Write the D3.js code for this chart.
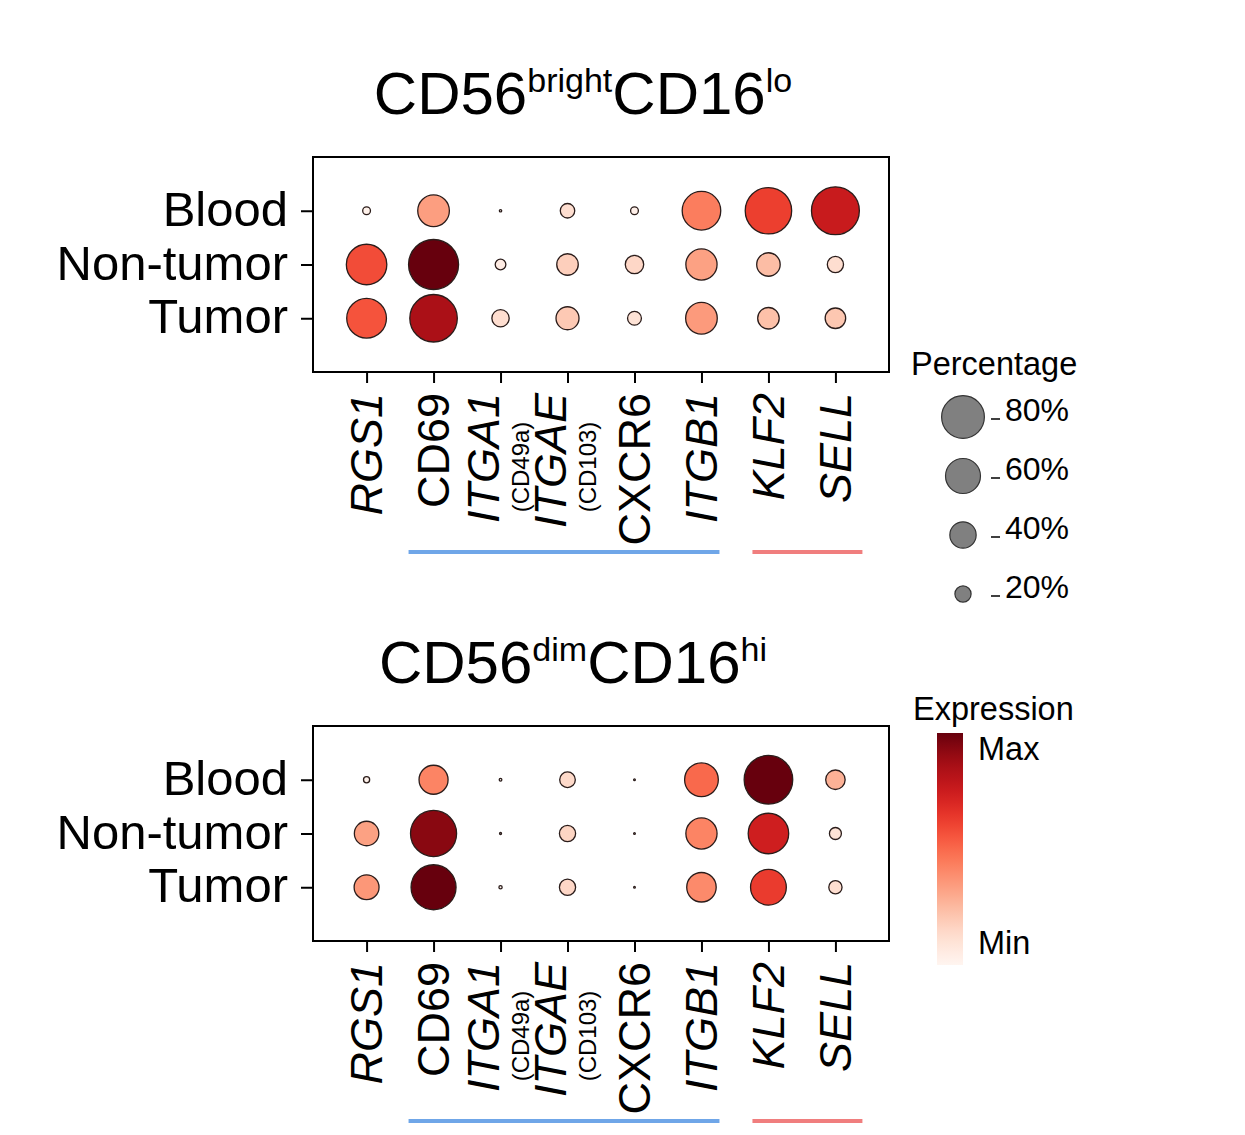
<!DOCTYPE html>
<html><head><meta charset="utf-8">
<script src="https://cdn.jsdelivr.net/npm/d3@7"></script>
<style>
body{margin:0;background:#fff}
svg{display:block}
text{font-family:"Liberation Sans",Arial,Helvetica,sans-serif;fill:#000}
</style>
</head><body>
<svg id="chart" width="1245" height="1135"></svg>
<script>
// ---------------- data ----------------
const genes = ["RGS1","CD69","ITGA1","ITGAE","CXCR6","ITGB1","KLF2","SELL"];
const uprightGenes = ["CD69","CXCR6"];
const notedGenes = ["ITGA1","ITGAE"];
const geneNotes = ["(CD49a)","(CD103)"];
const tissues = ["Blood","Non-tumor","Tumor"];

// percentage of cells expressing (rows = tissues)
const brightPct = [
  [7, 52, 1.3, 17, 7, 69, 90, 94],
  [74, 100, 11, 30, 24, 51, 34, 20],
  [72, 93, 22, 33, 16, 52, 30, 28]
];
// scaled mean expression 0 (min) .. 1 (max)
const brightExpr = [
  [0.02, 0.34, 0.0, 0.12, 0.03, 0.44, 0.62, 0.76],
  [0.58, 1.0, 0.05, 0.18, 0.15, 0.33, 0.24, 0.12],
  [0.56, 0.85, 0.12, 0.20, 0.10, 0.35, 0.23, 0.21]
];
const dimPct = [
  [5, 46, 1.5, 19, 0.8, 57, 96, 26],
  [36, 89, 1, 20, 0.8, 51, 74, 13],
  [37, 86, 2, 20, 0.8, 47, 62, 15]
];
const dimExpr = [
  [0.02, 0.42, 0.0, 0.14, 0.0, 0.50, 1.0, 0.28],
  [0.33, 0.93, 0.0, 0.16, 0.0, 0.42, 0.74, 0.10],
  [0.36, 1.0, 0.0, 0.15, 0.0, 0.40, 0.63, 0.12]
];
const legendPcts = [80, 60, 40, 20];
const blueGroup = ["CD69","ITGB1"];
const redGroup = ["KLF2","SELL"];
const titleParts = [["CD56","bright","CD16","lo"],["CD56","dim","CD16","hi"]];
const sizeTitle = "Percentage";
const colorTitle = "Expression";
const colorLabels = ["Max","Min"];

// ---------------- drawing ----------------
const svg = d3.select("#chart");
svg.append("rect").attr("width",1245).attr("height",1135).attr("fill","#fff");

const boxLeft = 313, boxRight = 889, boxH = 215;
const x = d3.scalePoint().domain(genes).range([boxLeft, boxRight]).padding(0.8);
const rScale = d3.scalePow().exponent(0.7).domain([0,100]).range([0,25]);
const color = d3.scaleSequential(d3.interpolateReds).domain([0,1]);

function panel(top, pct, expr, title, titleX) {
  const bottom = top + boxH;
  const y = d3.scalePoint().domain(tissues).range([top, bottom]).padding(1);
  const g = svg.append("g");

  // title
  const t = g.append("text").attr("x", titleX).attr("y", top - 43)
    .attr("text-anchor","middle").attr("font-size",60);
  t.append("tspan").text(title[0]);
  t.append("tspan").attr("font-size",34).attr("dy",-22).text(title[1]);
  t.append("tspan").attr("dy",22).text(title[2]);
  t.append("tspan").attr("font-size",34).attr("dy",-22).text(title[3]);

  // y axis
  const ya = g.append("g").attr("transform",`translate(${boxLeft},0)`)
    .call(d3.axisLeft(y).tickSize(12).tickPadding(13));
  ya.select(".domain").remove();
  ya.selectAll("line").attr("stroke","#000").attr("stroke-width",2);
  ya.selectAll("text").attr("font-size",49).attr("font-family",null).attr("dy","0.3em");

  // x axis ticks
  const xa = g.append("g").attr("transform",`translate(0,${bottom})`)
    .call(d3.axisBottom(x).tickSize(11).tickFormat(""));
  xa.select(".domain").remove();
  xa.selectAll("line").attr("stroke","#000").attr("stroke-width",2);

  // frame
  g.append("rect").attr("x",boxLeft).attr("y",top).attr("width",boxRight-boxLeft).attr("height",boxH)
    .attr("fill","none").attr("stroke","#000").attr("stroke-width",2);

  // x labels
  genes.forEach(gene => {
    const lg = g.append("g").attr("transform",`translate(${x(gene)},${bottom}) rotate(-90)`);
    const ni = notedGenes.indexOf(gene);
    lg.append("text").attr("x",-21).attr("y", ni >= 0 ? -2 : 15.5)
      .attr("text-anchor","end").attr("font-size",45)
      .attr("font-style", uprightGenes.includes(gene) ? "normal" : "italic")
      .text(gene);
    if (ni >= 0) {
      lg.append("text").attr("x",-95).attr("y",28).attr("text-anchor","middle")
        .attr("font-size",24).text(geneNotes[ni]);
    }
  });

  // group lines
  g.append("line").attr("x1",x(blueGroup[0])-25).attr("x2",x(blueGroup[1])+18)
    .attr("y1",bottom+180).attr("y2",bottom+180).attr("stroke","#6fa6e8").attr("stroke-width",4);
  g.append("line").attr("x1",x(redGroup[0])-16).attr("x2",x(redGroup[1])+27)
    .attr("y1",bottom+180).attr("y2",bottom+180).attr("stroke","#f07e7e").attr("stroke-width",4);

  // dots
  const cells = [];
  tissues.forEach((ti,i) => genes.forEach((ge,j) => cells.push({ti, ge, p:pct[i][j], e:expr[i][j]})));
  g.selectAll("circle.dot").data(cells).enter().append("circle")
    .attr("class","dot")
    .attr("cx",d => x(d.ge)).attr("cy",d => y(d.ti))
    .attr("r",d => rScale(d.p))
    .attr("fill",d => color(d.e))
    .attr("stroke","#2a1c1a").attr("stroke-width",1.3);
}

panel(157, brightPct, brightExpr, titleParts[0], 583);
panel(726, dimPct, dimExpr, titleParts[1], 573);

// size legend
const lg = svg.append("g");
lg.append("text").attr("x",911).attr("y",375).attr("font-size",32.5).text(sizeTitle);
legendPcts.forEach((p,i) => {
  const cy = 417 + i*59;
  lg.append("circle").attr("cx",963).attr("cy",cy).attr("r",rScale(p))
    .attr("fill","#808080").attr("stroke","#333").attr("stroke-width",1.2);
  lg.append("line").attr("x1",991).attr("x2",1000).attr("y1",cy+2).attr("y2",cy+2)
    .attr("stroke","#000").attr("stroke-width",1.5);
  lg.append("text").attr("x",1005).attr("y",cy+4).attr("font-size",32).text(p + "%");
});

// colour legend
const defs = svg.append("defs");
const grad = defs.append("linearGradient").attr("id","cbar").attr("x1",0).attr("x2",0).attr("y1",1).attr("y2",0);
d3.range(0,1.0001,0.05).forEach(t => grad.append("stop").attr("offset",t).attr("stop-color",color(t)));
const cg = svg.append("g");
cg.append("text").attr("x",913).attr("y",720).attr("font-size",32.5).text(colorTitle);
cg.append("rect").attr("x",937).attr("y",733).attr("width",26).attr("height",232).attr("fill","url(#cbar)");
cg.append("text").attr("x",978).attr("y",760).attr("font-size",32.5).text(colorLabels[0]);
cg.append("text").attr("x",978).attr("y",954).attr("font-size",32.5).text(colorLabels[1]);
</script>
</body></html>
